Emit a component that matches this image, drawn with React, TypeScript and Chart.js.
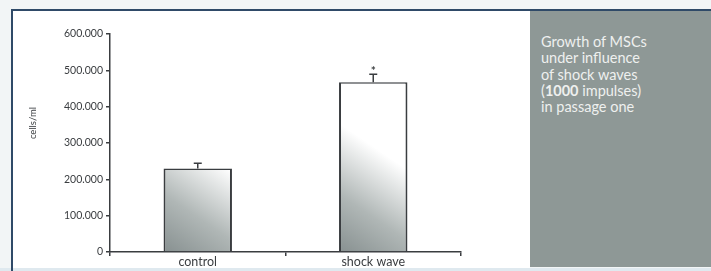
import React, { useEffect, useRef } from "react";
import { Chart, registerables } from "chart.js";

Chart.register(...registerables);

const categories = ["control", "shock wave"];
const values = [230000, 467000];
const errors = [14000, 22000];
const significance = ["", "*"];
const yTicks = [0, 100000, 200000, 300000, 400000, 500000, 600000];
const yTitle = "cells/ml";
const yTitleAt = 355000;
const panelLines = [
  [{ t: "Growth of MSCs", b: false }],
  [{ t: "under influence", b: false }],
  [{ t: "of shock waves", b: false }],
  [{ t: "(", b: false }, { t: "1000", b: true }, { t: " impulses)", b: false }],
  [{ t: "in passage one", b: false }],
];

const FONT = "Lato, 'Open Sans', sans-serif";
const INK = "#3a3d40";

const fmt = (v: number) => (v === 0 ? "0" : `${v / 1000}.000`);

const errorBarPlugin = {
  id: "errorBars",
  afterDatasetsDraw(chart: any) {
    const { ctx } = chart;
    const meta = chart.getDatasetMeta(0);
    const y = chart.scales.y;
    ctx.save();
    meta.data.forEach((el: any, i: number) => {
      const x = el.x;
      const top = y.getPixelForValue(values[i] + errors[i]);
      const base = y.getPixelForValue(values[i]);
      ctx.strokeStyle = INK;
      ctx.lineWidth = 1.5;
      ctx.beginPath();
      ctx.moveTo(x, base);
      ctx.lineTo(x, top);
      ctx.moveTo(x - 4, top);
      ctx.lineTo(x + 4, top);
      ctx.stroke();
      if (significance[i]) {
        ctx.fillStyle = INK;
        ctx.font = `bold 12px ${FONT}`;
        ctx.textAlign = "center";
        ctx.textBaseline = "bottom";
        ctx.fillText(significance[i], x, top + 3);
      }
    });
    // y axis title
    ctx.save();
    ctx.translate(20, y.getPixelForValue(yTitleAt));
    ctx.rotate(-Math.PI / 2);
    ctx.fillStyle = INK;
    ctx.font = `9.5px ${FONT}`;
    ctx.textAlign = "center";
    ctx.textBaseline = "middle";
    ctx.fillText(yTitle, 0, 0);
    ctx.restore();
    ctx.restore();
  },
};

function barFill(context: any) {
  const chart = context.chart;
  const xs = chart.scales.x;
  const ys = chart.scales.y;
  if (!xs || !ys || context.dataIndex === undefined) return "#b8bebd";
  const catW = (xs.right - xs.left) / categories.length;
  const w = catW * 0.39;
  const cx = xs.getPixelForValue(context.dataIndex);
  const left = cx - w / 2;
  const bottom = ys.getPixelForValue(0);
  if (![left, bottom].every((v) => Number.isFinite(v))) return "#b8bebd";
  const g = chart.ctx.createLinearGradient(left, bottom, left + 60, bottom - 88);
  g.addColorStop(0, "#879090");
  g.addColorStop(0.45, "#b0b7b6");
  g.addColorStop(1, "#ffffff");
  return g;
}

export default function App() {
  const ref = useRef<HTMLCanvasElement | null>(null);
  useEffect(() => {
    if (!ref.current) return;
    const chart = new Chart(ref.current, {
      type: "bar",
      data: {
        labels: categories,
        datasets: [
          {
            data: values,
            backgroundColor: barFill,
            borderColor: INK,
            borderWidth: { top: 1.5, left: 2, right: 2, bottom: 0 } as any,
            borderSkipped: "bottom",
            barPercentage: 0.39,
            categoryPercentage: 1,
          },
        ],
      },
      options: {
        animation: false,
        responsive: false,
        maintainAspectRatio: false,
        devicePixelRatio: 1,
        layout: { padding: { left: 10, right: 68, top: 23, bottom: 0 } },
        plugins: { legend: { display: false }, tooltip: { enabled: false } },
        scales: {
          x: {
            grid: { display: true, drawOnChartArea: false, drawTicks: true, tickLength: 4, color: INK, lineWidth: 1.5 },
            border: { display: true, color: INK, width: 1.5 },
            ticks: { color: INK, font: { family: FONT, size: 12.5 }, padding: -2 },
            afterFit: (s: any) => { s.height = 16; },
          },
          y: {
            min: 0,
            max: 600000,
            afterBuildTicks: (s: any) => { s.ticks = yTicks.map((v) => ({ value: v })); },
            grid: { display: true, drawOnChartArea: false, drawTicks: true, tickLength: 4, color: INK, lineWidth: 1.5 },
            border: { display: true, color: INK, width: 1.5 },
            ticks: { color: INK, font: { family: FONT, size: 10.5 }, padding: 3, callback: (v: any) => fmt(Number(v)) },
            afterFit: (s: any) => { s.width = 87; },
          },
        },
      },
      plugins: [errorBarPlugin],
    });
    return () => chart.destroy();
  }, []);

  return (
    <div style={{ position: "absolute", left: 0, top: 0, width: 711, height: 271, background: "#f2f5f6", overflow: "hidden" }}>
      <div style={{ position: "absolute", left: 0, top: 268, width: 711, height: 3, background: "#dfe9ef" }} />
      <div style={{ position: "absolute", left: 11, top: 9, width: 700, height: 2, background: "#2f4a68" }} />
      <div style={{ position: "absolute", left: 11, top: 9, width: 2, height: 262, background: "#2f4a68" }} />
      <div style={{ position: "absolute", left: 13, top: 11, width: 517, height: 257, background: "#ffffff" }}>
        <canvas ref={ref} width={516} height={257} style={{ width: 516, height: 257, display: "block" }} />
      </div>
      <div style={{ position: "absolute", left: 530, top: 11, width: 181, height: 256, background: "#8e9896" }}>
        <div style={{ position: "absolute", left: 11, top: 23, color: "#eef0ef", fontFamily: FONT, fontSize: 14.5, lineHeight: "16.3px", whiteSpace: "nowrap" }}>
          {panelLines.map((line, i) => (
            <div key={i}>
              {line.map((p, j) => (
                <span key={j} style={{ fontWeight: p.b ? 700 : 400 }}>{p.t}</span>
              ))}
            </div>
          ))}
        </div>
      </div>
    </div>
  );
}
